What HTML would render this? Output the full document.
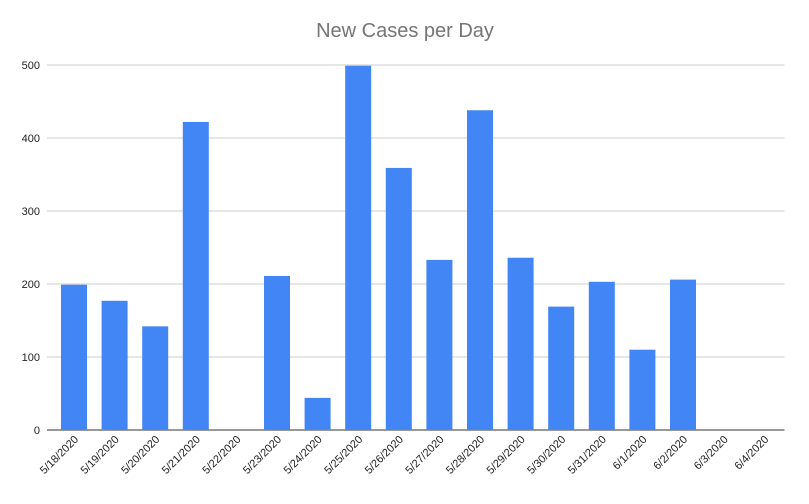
<!DOCTYPE html>
<html><head><meta charset="utf-8"><style>
body{margin:0;background:#fff;font-family:"Liberation Sans",Arial,sans-serif}
svg text{font-family:"Liberation Sans",Arial,sans-serif}
</style></head><body>
<svg id="chart" width="809" height="499" xmlns="http://www.w3.org/2000/svg">
<rect width="809" height="499" fill="#fff"/>
<text x="405" y="37" text-anchor="middle" font-size="20" fill="#757575">New Cases per Day</text>
<g id="grid"></g><g id="bars"></g><g id="xlabels"></g>
</svg>
<script>
const categories=["5/18/2020","5/19/2020","5/20/2020","5/21/2020","5/22/2020","5/23/2020","5/24/2020","5/25/2020","5/26/2020","5/27/2020","5/28/2020","5/29/2020","5/30/2020","5/31/2020","6/1/2020","6/2/2020","6/3/2020","6/4/2020"];
const cases=[199,177,142,422,0,211,44,499,359,233,438,236,169,203,110,206,0,0];
const yTicks=[0,100,200,300,400,500];
const NS="http://www.w3.org/2000/svg";
const y0=430,yTop=65,yMax=500,left=53.7,band=40.6,right=left+band*categories.length;
function y(v){return y0-(v/yMax)*(y0-yTop);}
function x(i){return left+band*i+band/2;}
const grid=document.getElementById('grid');
yTicks.forEach(t=>{
 const l=document.createElementNS(NS,'line');
 
 
 l.setAttribute('x1',47);l.setAttribute('x2',right);l.setAttribute('y1',y(t));l.setAttribute('y2',y(t));
 l.setAttribute('stroke',t===0?'#333':'#ccc');l.setAttribute('stroke-width',1);
 grid.appendChild(l);
 const tx=document.createElementNS(NS,'text');
 
 
 tx.setAttribute('x',40);tx.setAttribute('y',y(t)+4);tx.setAttribute('text-anchor','end');
 tx.setAttribute('font-size',11);tx.setAttribute('fill','#222');tx.textContent=t;
 grid.appendChild(tx);
});
const bars=document.getElementById('bars'),xl=document.getElementById('xlabels');
categories.forEach((c,i)=>{
 const r=document.createElementNS(NS,'rect');
 
 
 r.setAttribute('x',x(i)-13);r.setAttribute('width',26);
 r.setAttribute('y',y(cases[i]));r.setAttribute('height',y0-y(cases[i]));
 r.setAttribute('fill','#4285f4');
 bars.appendChild(r);
 const t=document.createElementNS(NS,'text');
 
 
 const lx=x(i)+5,ly=440;
 t.setAttribute('x',lx);t.setAttribute('y',ly);t.setAttribute('text-anchor','end');
 t.setAttribute('font-size',11);t.setAttribute('fill','#222');
 t.setAttribute('transform','rotate(-45 '+lx+' '+ly+')');
 t.textContent=c;xl.appendChild(t);
});
</script>
</body></html>
